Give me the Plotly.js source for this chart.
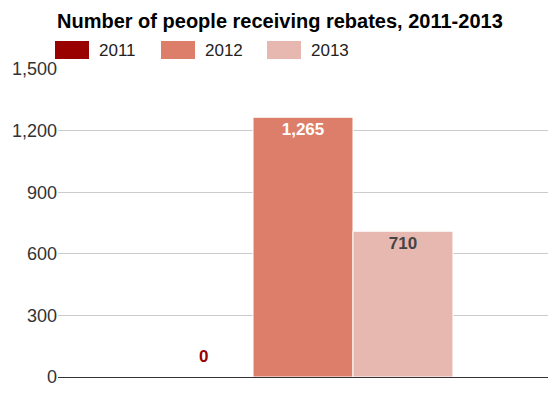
<!DOCTYPE html>
<html>
<head>
<meta charset="utf-8">
<script src="https://cdn.plot.ly/plotly-3.0.1.min.js"></script>
<style>html,body{margin:0;padding:0;background:#fff;}#chart{width:552px;height:398px;}</style>
</head>
<body>
<div id="chart"></div>
<script>
var categories = [''];
var seriesNames = ['2011', '2012', '2013'];
var values2011 = [0];
var values2012 = [1265];
var values2013 = [710];
var tickVals = [0, 300, 600, 900, 1200, 1500];
var tickText = ['0', '300', '600', '900', '1,200', '1,500'];

var colors = ['#990000', '#dd7e6b', '#e6b8af'];
var textColors = ['#990000', '#ffffff', '#444444'];
var seriesValues = [values2011, values2012, values2013];

var W = 552, H = 398;
var L = 58, R = 4, T = 69, B = 21;
var BARGAP = 0.388;
function px2x(px) { return (px - L) / (W - L - R); }
function px2y(py) { return (H - B - py) / (H - T - B); }

var FONT = 'Arial, "Liberation Sans", sans-serif';

var traces = seriesNames.map(function (name, i) {
  var isZero = i === 0;
  return {
    type: 'bar',
    name: name,
    x: categories,
    y: seriesValues[i],
    marker: { color: colors[i], line: { color: '#ffffff', width: 1 } },
    texttemplate: isZero ? '' : '%{y:,.0f}',
    textposition: isZero ? 'none' : 'inside',
    insidetextanchor: 'end',
    textfont: { family: FONT, size: 17, color: textColors[i], weight: 'bold' },
    insidetextfont: { family: FONT, size: 17, color: textColors[i], weight: 'bold' },
    constraintext: 'none',
    cliponaxis: false,
    showlegend: false,
    hoverinfo: 'skip'
  };
});

var shapes = [];
var annotations = [];
var legendSwatchX = [55, 161, 267];
var legendTextX = [97, 203, 309];
seriesNames.forEach(function (name, i) {
  shapes.push({
    type: 'rect', xref: 'paper', yref: 'paper',
    x0: px2x(legendSwatchX[i]), x1: px2x(legendSwatchX[i] + 34),
    y0: px2y(59), y1: px2y(41),
    fillcolor: colors[i], line: { width: 0 }
  });
  annotations.push({
    xref: 'paper', yref: 'paper',
    x: px2x(legendTextX[i]), y: px2y(50.5),
    xanchor: 'left', yanchor: 'middle',
    text: name, showarrow: false,
    font: { family: FONT, size: 17, color: '#222222' }
  });
});

// label for the zero-valued 2011 bar, placed above the baseline
var barWidthPx = (W - L - R) * (1 - BARGAP) / seriesNames.length;
annotations.push({
  xref: 'x', yref: 'y',
  x: 0, y: values2011[0],
  xshift: -barWidthPx, yshift: 21,
  xanchor: 'center', yanchor: 'middle',
  text: '<b>' + values2011[0].toLocaleString('en-US') + '</b>',
  showarrow: false,
  font: { family: FONT, size: 17, color: textColors[0] }
});

var layout = {
  width: W, height: H,
  margin: { l: L, r: R, t: T, b: B, pad: 0 },
  paper_bgcolor: '#ffffff', plot_bgcolor: '#ffffff',
  font: { family: FONT, color: '#444444' },
  title: {
    text: '<b>Number of people receiving rebates, 2011-2013</b>',
    xref: 'container', yref: 'container',
    x: 57 / W, xanchor: 'left',
    y: 1 - 20.5 / H, yanchor: 'middle',
    font: { family: FONT, size: 20, color: '#000000' }
  },
  barmode: 'group',
  bargap: BARGAP,
  bargroupgap: 0,
  showlegend: false,
  xaxis: {
    range: [-0.5, 0.5],
    showticklabels: false,
    showgrid: false,
    zeroline: false,
    showline: false,
    ticks: ''
  },
  yaxis: {
    range: [0, 1500],
    tickvals: tickVals,
    ticktext: tickText,
    tickfont: { family: FONT, size: 18, color: '#333333' },
    showgrid: true,
    gridcolor: '#cccccc',
    gridwidth: 1,
    zeroline: true,
    zerolinecolor: '#333333',
    zerolinewidth: 1,
    showline: false,
    ticks: '',
    automargin: false
  },
  shapes: shapes,
  annotations: annotations
};

Plotly.newPlot('chart', traces, layout, { displayModeBar: false, staticPlot: true });
</script>
</body>
</html>
